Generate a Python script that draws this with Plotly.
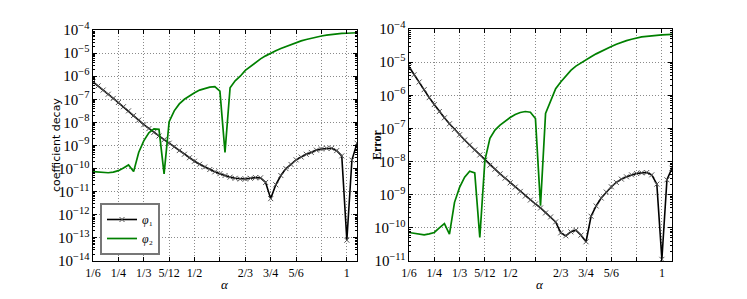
import plotly.graph_objects as go

# sampling grid in alpha (k/60, k = 10..62)
alpha = [k / 60 for k in range(10, 63)]

# log10 of values
phi1_coef_log10 = [-6.25, -6.42, -6.60, -6.78, -6.96, -7.14, -7.32, -7.50, -7.70, -7.90,
                   -8.10, -8.27, -8.43, -8.59, -8.75, -8.90, -9.06, -9.22, -9.38, -9.53,
                   -9.68, -9.81, -9.93, -10.04, -10.14, -10.22, -10.30, -10.37, -10.42, -10.45,
                   -10.45, -10.42, -10.39, -10.40, -10.60, -11.30, -10.70, -10.30, -10.00, -9.82,
                   -9.62, -9.50, -9.38, -9.30, -9.20, -9.15, -9.12, -9.12, -9.22, -9.45,
                   -13.10, -9.63, -8.90]
phi2_coef_log10 = [-10.13, -10.15, -10.17, -10.18, -10.15, -10.09, -9.97, -9.84, -10.13, -9.30,
                   -8.80, -8.45, -8.28, -8.30, -10.23, -7.97, -7.50, -7.20, -7.00, -6.85,
                   -6.72, -6.60, -6.52, -6.47, -6.45, -6.65, -9.30, -6.50, -6.20, -6.00,
                   -5.75, -5.57, -5.40, -5.25, -5.12, -5.00, -4.90, -4.80, -4.71, -4.62,
                   -4.54, -4.47, -4.41, -4.35, -4.30, -4.26, -4.22, -4.19, -4.17, -4.15,
                   -4.14, -4.13, -4.12]
phi1_err_log10 = [-5.14, -5.38, -5.60, -5.83, -6.07, -6.28, -6.49, -6.68, -6.86, -7.03,
                  -7.19, -7.35, -7.50, -7.65, -7.80, -7.96, -8.11, -8.23, -8.37, -8.50,
                  -8.64, -8.77, -8.90, -9.04, -9.16, -9.28, -9.40, -9.55, -9.67, -9.82,
                  -10.15, -10.24, -10.12, -10.07, -10.22, -10.42, -9.65, -9.34, -9.10, -8.92,
                  -8.76, -8.63, -8.53, -8.46, -8.40, -8.36, -8.34, -8.33, -8.40, -8.68,
                  -10.95, -8.55, -8.20]
phi2_err_log10 = [-10.14, -10.17, -10.20, -10.21, -10.18, -10.14, -10.00, -9.87, -10.19, -9.23,
                  -8.78, -8.47, -8.29, -8.34, -10.29, -7.97, -7.30, -7.05, -6.90, -6.78,
                  -6.67, -6.58, -6.52, -6.49, -6.51, -6.70, -9.33, -6.55, -6.15, -5.80,
                  -5.60, -5.41, -5.25, -5.12, -5.02, -4.93, -4.84, -4.75, -4.67, -4.60,
                  -4.53, -4.46, -4.40, -4.35, -4.31, -4.27, -4.24, -4.22, -4.20, -4.19,
                  -4.18, -4.17, -4.16]

x_tickvals = [2/12, 3/12, 4/12, 5/12, 6/12, 7/12, 8/12, 9/12, 10/12, 11/12, 12/12]
x_ticktext = ["1/6", "1/4", "1/3", "5/12", "1/2", "", "2/3", "3/4", "5/6", "", "1"]

def vals(lst):
    return [10 ** v for v in lst]

SERIF = "Liberation Serif"
fig = go.Figure()

black = dict(color="black", width=1.6)
green = dict(color="#008000", width=1.7)
mk = dict(symbol="x-thin", size=5, line=dict(color="#555", width=1), color="#555")

fig.add_trace(go.Scatter(x=alpha, y=vals(phi1_coef_log10), mode="lines+markers", line=black,
                         marker=mk, name="<i>φ</i>₁", xaxis="x", yaxis="y"))
fig.add_trace(go.Scatter(x=alpha, y=vals(phi2_coef_log10), mode="lines", line=green,
                         name="<i>φ</i>₂", xaxis="x", yaxis="y"))
fig.add_trace(go.Scatter(x=alpha, y=vals(phi1_err_log10), mode="lines+markers", line=black,
                         marker=mk, showlegend=False, xaxis="x2", yaxis="y2"))
fig.add_trace(go.Scatter(x=alpha, y=vals(phi2_err_log10), mode="lines", line=green,
                         showlegend=False, xaxis="x2", yaxis="y2"))

W, H = 747, 299
def px(x):
    return x / W
def py(y):
    return 1 - y / H

GRID = dict(showgrid=True, gridcolor="#8a8a8a", griddash="1px,2px", gridwidth=1)
common_x = dict(range=[1/6, 31/30], tickvals=x_tickvals, ticktext=x_ticktext,
                ticks="inside", ticklen=4, tickcolor="black", mirror="allticks",
                showline=True, linecolor="black", linewidth=1.2, zeroline=False,
                automargin=False,
                tickfont=dict(family=SERIF, size=12, color="black"), **GRID)
common_y = dict(type="log", dtick=1, exponentformat="power",
                ticks="inside", ticklen=4, tickcolor="black", mirror="allticks",
                showline=True, linecolor="black", linewidth=1.2, zeroline=False,
                automargin=False,
                minor=dict(ticks="inside", ticklen=2, tickcolor="black", dtick="D1",
                           showgrid=False),
                tickfont=dict(family=SERIF, size=12, color="black"), **GRID)

def ann(text, x, y, font, angle=0):
    return dict(text=text, x=px(x), y=py(y), xref="paper", yref="paper",
                xanchor="center", yanchor="middle", showarrow=False,
                textangle=angle, font=font)

fig.update_layout(
    template="none",
    width=W, height=H, margin=dict(l=0, r=0, t=0, b=0, pad=0, autoexpand=False),
    paper_bgcolor="white", plot_bgcolor="white",
    xaxis=dict(domain=[px(93), px(357)], anchor="y", **common_x),
    yaxis=dict(domain=[py(261), py(30)], anchor="x", range=[-14, -4], **common_y),
    xaxis2=dict(domain=[px(409), px(672)], anchor="y2", **common_x),
    yaxis2=dict(domain=[py(261), py(29)], anchor="x2", range=[-11, -4], **common_y),
    legend=dict(x=px(100), y=py(255), xanchor="left", yanchor="bottom",
                bordercolor="#777", borderwidth=2, bgcolor="white",
                font=dict(family=SERIF, size=12, color="black"),
                tracegroupgap=0, itemwidth=30),
    showlegend=True,
    annotations=[
        ann("coefficient decay", 56, 145, dict(family="DejaVu Sans", size=11, color="black"), -90),
        ann("<b>Error</b>", 377, 145, dict(family=SERIF, size=12, color="black"), -90),
        ann("<i>α</i>", 225, 284, dict(family=SERIF, size=13, color="black")),
        ann("<i>α</i>", 540, 284, dict(family=SERIF, size=13, color="black")),
    ],
)

fig.write_html("out.html", config={"displayModeBar": False},
               post_script="document.body.style.margin='0';document.body.style.overflow='hidden';")
